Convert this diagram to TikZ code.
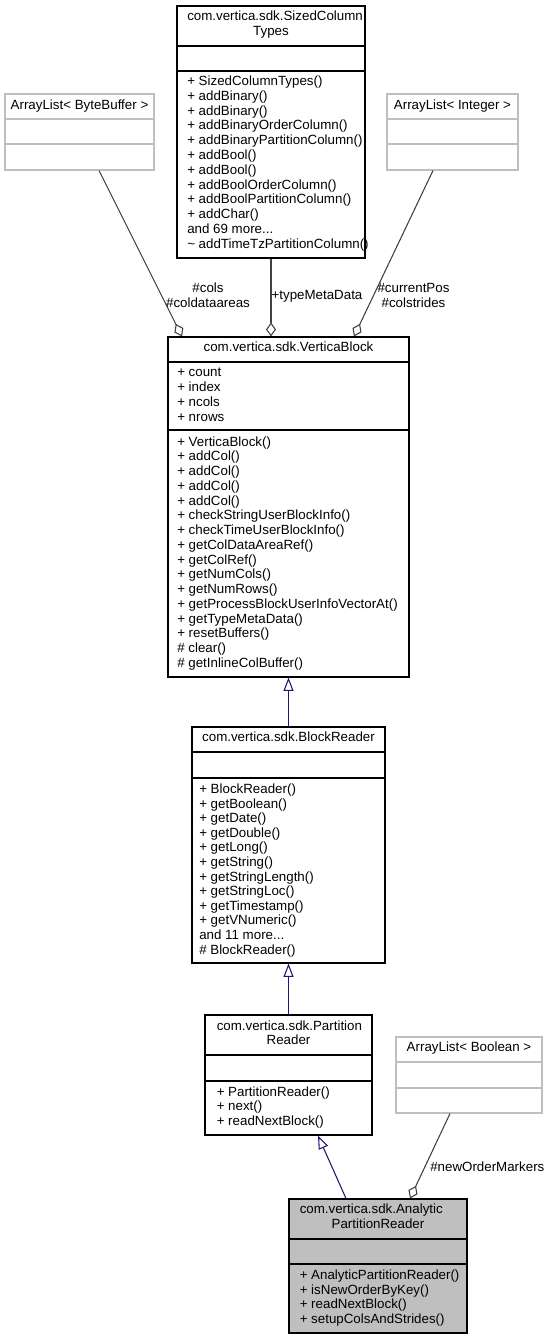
\documentclass[tikz,border=0pt]{standalone}
\usepackage{fontspec}
\setmainfont{Liberation Sans}
\usetikzlibrary{arrows.meta,calc,fit}
\definecolor{inhblue}{HTML}{191970}
\definecolor{selgray}{HTML}{BFBFBF}
\definecolor{extframe}{HTML}{BFBFBF}
\definecolor{aggline}{HTML}{404040}
\newcommand{\umlfont}{\fontsize{10}{11.1}\selectfont}

\tikzset{
  cls/.style={draw=black, line width=0.8pt, inner sep=0pt},
  extcls/.style={draw=extframe, line width=0.8pt, inner sep=0pt},
  ttl/.style={anchor=base, inner sep=0pt, font=\umlfont},
  ttlw/.style={anchor=base west, inner sep=0pt, font=\umlfont},
  mem/.style={anchor=base west, inner sep=0pt, font=\umlfont},
  role/.style={inner sep=0pt, align=center, font=\umlfont},
  inherit/.style={draw=inhblue, line width=0.8pt, -{Triangle[open,length=10pt,width=7.5pt]}},
  agg/.style={draw=aggline, line width=0.8pt, -{Diamond[open,length=10.5pt,width=7.5pt]}},
}

\begin{document}
\begin{tikzpicture}[x=0.75pt,y=-0.75pt]
  \useasboundingbox (0,0) rectangle (557,1340);

  % SizedColumnTypes
  \node[cls, fit={(177,6) (365,258)}] (sct) {};
  \draw[cls] (sct.west |- 0,46) -- (sct.east |- 0,46);
  \draw[cls] (sct.west |- 0,71) -- (sct.east |- 0,71);
  \node[ttlw] (sct-t1) at (187,20.5) {com.vertica.sdk.SizedColumn};
  \node[ttl] (sct-t2) at (271,35.5) {Types};
  \foreach \m [count=\i from 0] in {+ SizedColumnTypes(), + addBinary(), + addBinary(),
      + addBinaryOrderColumn(), + addBinaryPartitionColumn(), + addBool(), + addBool(),
      + addBoolOrderColumn(), + addBoolPartitionColumn(), + addChar(), {and 69 more.{}.{}.},
      {\textasciitilde{} addTimeTzPartitionColumn()}}
    \node[mem] (sct-m\i) at (187,85.5+14.8*\i) {\m};

  % ArrayList< ByteBuffer >
  \node[extcls, fit={(5,94) (154,170)}] (bb) {};
  \draw[extcls] (bb.west |- 0,119) -- (bb.east |- 0,119);
  \draw[extcls] (bb.west |- 0,144) -- (bb.east |- 0,144);
  \node[ttl] (bb-t) at (79.5,109.5) {ArrayList< ByteBuffer >};

  % ArrayList< Integer >
  \node[extcls, fit={(387,94) (518,170)}] (ig) {};
  \draw[extcls] (ig.west |- 0,119) -- (ig.east |- 0,119);
  \draw[extcls] (ig.west |- 0,144) -- (ig.east |- 0,144);
  \node[ttl] (ig-t) at (452.5,109.5) {ArrayList< Integer >};

  % VerticaBlock
  \node[cls, fit={(168,337) (409,677)}] (vb) {};
  \draw[cls] (vb.west |- 0,362) -- (vb.east |- 0,362);
  \draw[cls] (vb.west |- 0,430) -- (vb.east |- 0,430);
  \node[ttl] (vb-t) at (288.5,351.5) {com.vertica.sdk.VerticaBlock};
  \foreach \m [count=\i from 0] in {+ count, + index, + ncols, + nrows}
    \node[mem] (vb-a\i) at (177,376.8+14.8*\i) {\m};
  \foreach \m [count=\i from 0] in {+ VerticaBlock(), + addCol(), + addCol(), + addCol(),
      + addCol(), + checkStringUserBlockInfo(), + checkTimeUserBlockInfo(),
      + getColDataAreaRef(), + getColRef(), + getNumCols(), + getNumRows(),
      + getProcessBlockUserInfoVectorAt(), + getTypeMetaData(), + resetBuffers(),
      \# clear(), \# getInlineColBuffer()}
    \node[mem] (vb-m\i) at (177,446+14.75*\i) {\m};

  % BlockReader
  \node[cls, fit={(192,727) (385,963)}] (br) {};
  \draw[cls] (br.west |- 0,752) -- (br.east |- 0,752);
  \draw[cls] (br.west |- 0,778) -- (br.east |- 0,778);
  \node[ttl] (br-t) at (288.5,741.5) {com.vertica.sdk.BlockReader};
  \foreach \m [count=\i from 0] in {+ BlockReader(), + getBoolean(), + getDate(),
      + getDouble(), + getLong(), + getString(), + getStringLength(), + getStringLoc(),
      + getTimestamp(), + getVNumeric(), {and 11 more.{}.{}.}, \# BlockReader()}
    \node[mem] (br-m\i) at (199,793.5+14.6*\i) {\m};

  % PartitionReader
  \node[cls, fit={(205,1015) (372,1135)}] (pr) {};
  \draw[cls] (pr.west |- 0,1055) -- (pr.east |- 0,1055);
  \draw[cls] (pr.west |- 0,1081) -- (pr.east |- 0,1081);
  \node[ttlw] (pr-t1) at (216.5,1030.5) {com.vertica.sdk.Partition};
  \node[ttl] (pr-t2) at (288.5,1044.5) {Reader};
  \foreach \m [count=\i from 0] in {+ PartitionReader(), + next(), + readNextBlock()}
    \node[mem] (pr-m\i) at (216.5,1096.3+14.6*\i) {\m};

  % ArrayList< Boolean >
  \node[extcls, fit={(396,1037) (542,1113)}] (bo) {};
  \draw[extcls] (bo.west |- 0,1062) -- (bo.east |- 0,1062);
  \draw[extcls] (bo.west |- 0,1088) -- (bo.east |- 0,1088);
  \node[ttl] (bo-t) at (469,1051.5) {ArrayList< Boolean >};

  % AnalyticPartitionReader
  \node[cls, fill=selgray, fit={(289,1199) (467,1333)}] (apr) {};
  \draw[cls] (apr.west |- 0,1239) -- (apr.east |- 0,1239);
  \draw[cls] (apr.west |- 0,1264) -- (apr.east |- 0,1264);
  \node[ttlw] (apr-t1) at (299.5,1213.5) {com.vertica.sdk.Analytic};
  \node[ttl] (apr-t2) at (378,1228.5) {PartitionReader};
  \foreach \m [count=\i from 0] in {+ AnalyticPartitionReader(), + isNewOrderByKey(),
      + readNextBlock(), + setupColsAndStrides()}
    \node[mem] (apr-m\i) at (299.5,1279.5+14.6*\i) {\m};

  % relations
  \draw[agg] ($(bb.south)+(19.5,0)$) -- ($(vb.north)+(-106.5,0)$);
  \draw[agg] (sct.south) -- (sct.south |- vb.north);
  \draw[agg] ($(ig.south)+(-19.5,0)$) -- ($(vb.north)+(65.5,0)$);
  \draw[inherit] (br.north) -- (vb.south);
  \draw[inherit] (pr.north) -- (br.south);
  \draw[inherit] ($(apr.north)+(-32,0)$) -- ($(pr.south)+(29.5,0)$);
  \draw[agg] ($(bo.south)+(-19,0)$) -- ($(apr.north)+(32,0)$);

  \node[role] (l-cols) at (208,295.5) {\#cols\\\#coldataareas};
  \node[role] (l-type) at (317,296) {+typeMetaData};
  \node[role] (l-pos) at (413.5,295.5) {\#currentPos\\\#colstrides};
  \node[role, anchor=west] (l-mark) at (430,1167) {\#newOrderMarkers};
\end{tikzpicture}
\end{document}
